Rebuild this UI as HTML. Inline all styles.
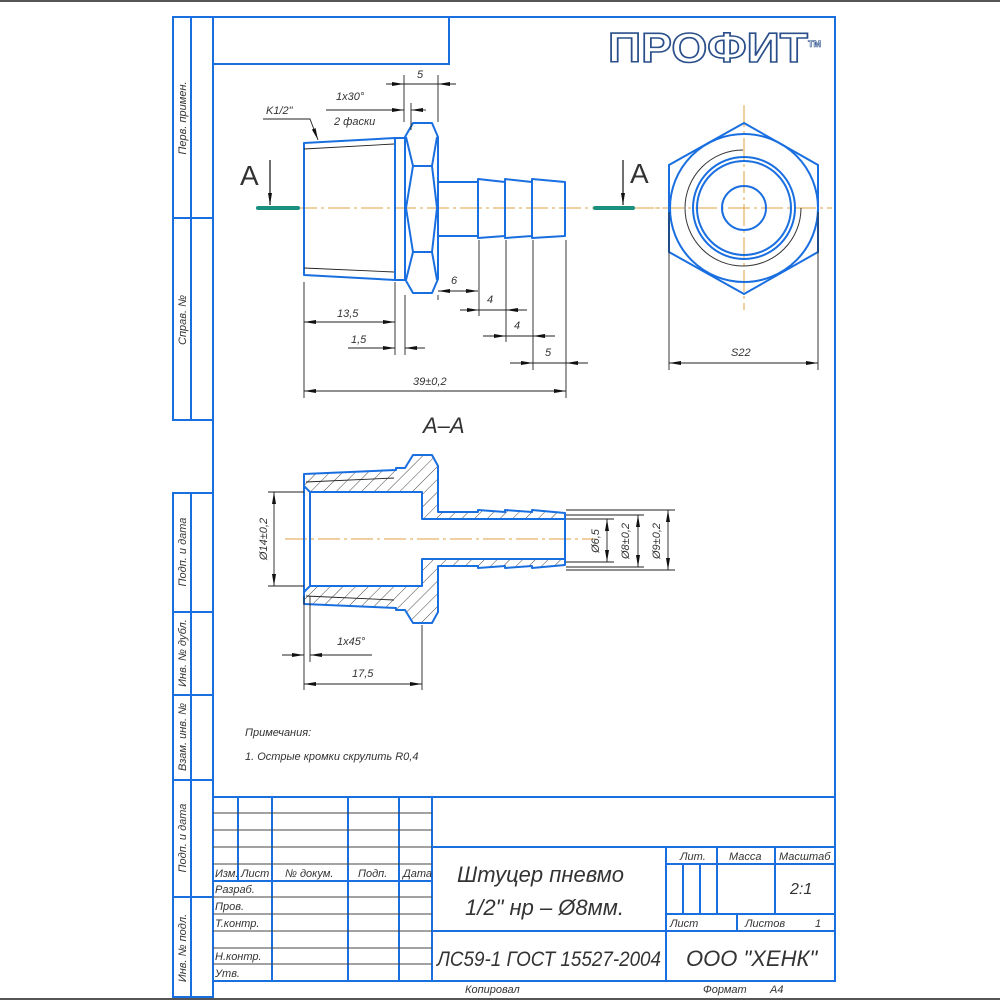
<!DOCTYPE html>
<html><head><meta charset="utf-8"><style>
html,body{margin:0;padding:0;background:#fff;}
svg{display:block;}
text{font-family:"Liberation Sans",sans-serif;font-style:italic;fill:#333;}
</style></head><body>
<svg width="1000" height="1000" viewBox="0 0 1000 1000" xmlns="http://www.w3.org/2000/svg">
<defs>
<marker id="a" viewBox="0 0 12 6" refX="12" refY="3" markerWidth="12" markerHeight="6" markerUnits="userSpaceOnUse" orient="auto-start-reverse"><path d="M0,1 L12,3 L0,5 Z" fill="#111"/></marker>
<pattern id="h" patternUnits="userSpaceOnUse" width="9" height="9" patternTransform="rotate(45)"><line x1="0" y1="0" x2="0" y2="9" stroke="#333" stroke-width="0.9"/></pattern>
</defs>
<rect width="1000" height="1000" fill="#fff"/>
<line x1="0" y1="1" x2="1000" y2="1" stroke="#555" stroke-width="2"/>
<line x1="0" y1="999" x2="1000" y2="999" stroke="#555" stroke-width="2"/>

<!-- frame -->
<g stroke="#1a6fe0" stroke-width="2" fill="none">
<rect x="213" y="17" width="622" height="964"/>
<rect x="213" y="17" width="236" height="47"/>
<polyline points="213,17 173,17 173,420 213,420"/>
<line x1="191" y1="17" x2="191" y2="420"/>
<line x1="173" y1="218" x2="213" y2="218"/>
<polyline points="213,493 173,493 173,997 213,997 213,981"/>
<line x1="191" y1="493" x2="191" y2="997"/>
<line x1="173" y1="612" x2="213" y2="612"/>
<line x1="173" y1="695" x2="213" y2="695"/>
<line x1="173" y1="780" x2="213" y2="780"/>
<line x1="173" y1="897" x2="213" y2="897"/>
<!-- title block -->
<line x1="213" y1="797" x2="835" y2="797"/>
<line x1="238" y1="797" x2="238" y2="881"/>
<line x1="272" y1="797" x2="272" y2="981"/>
<line x1="348" y1="797" x2="348" y2="981"/>
<line x1="399" y1="797" x2="399" y2="981"/>
<line x1="432" y1="797" x2="432" y2="981"/>
<line x1="432" y1="847" x2="835" y2="847"/>
<line x1="213" y1="881" x2="432" y2="881"/>
<line x1="666" y1="847" x2="666" y2="981"/>
<line x1="666" y1="864" x2="835" y2="864"/>
<line x1="666" y1="914" x2="835" y2="914"/>
<line x1="432" y1="931" x2="835" y2="931"/>
<line x1="683" y1="864" x2="683" y2="914"/>
<line x1="700" y1="864" x2="700" y2="914"/>
<line x1="717" y1="847" x2="717" y2="914"/>
<line x1="775" y1="847" x2="775" y2="914"/>
<line x1="737" y1="914" x2="737" y2="931"/>
</g>
<g stroke="#444" stroke-width="1">
<line x1="213" y1="813" x2="432" y2="813"/>
<line x1="213" y1="830" x2="432" y2="830"/>
<line x1="213" y1="847" x2="432" y2="847"/>
<line x1="213" y1="864" x2="432" y2="864"/>
<line x1="213" y1="897" x2="432" y2="897"/>
<line x1="213" y1="914" x2="432" y2="914"/>
<line x1="213" y1="931" x2="432" y2="931"/>
<line x1="213" y1="948" x2="432" y2="948"/>
<line x1="213" y1="964" x2="432" y2="964"/>
</g>
<!-- strip labels -->
<g font-size="11">
<text transform="translate(186,118) rotate(-90)" text-anchor="middle">Перв. примен.</text>
<text transform="translate(186,320) rotate(-90)" text-anchor="middle">Справ. №</text>
<text transform="translate(186,552) rotate(-90)" text-anchor="middle">Подп. и дата</text>
<text transform="translate(186,653) rotate(-90)" text-anchor="middle">Инв. № дубл.</text>
<text transform="translate(186,737) rotate(-90)" text-anchor="middle">Взам. инв. №</text>
<text transform="translate(186,838) rotate(-90)" text-anchor="middle">Подп. и дата</text>
<text transform="translate(186,948) rotate(-90)" text-anchor="middle">Инв. № подл.</text>
</g>
<!-- title texts -->
<g font-size="11">
<text x="215" y="877">Изм.</text><text x="241" y="877">Лист</text><text x="285" y="877">№ докум.</text><text x="358" y="877">Подп.</text><text x="403" y="877">Дата</text>
<text x="215" y="893">Разраб.</text><text x="215" y="910">Пров.</text><text x="215" y="927">Т.контр.</text>
<text x="215" y="960">Н.контр.</text><text x="215" y="977">Утв.</text>
<text x="680" y="860">Лит.</text><text x="729" y="860">Масса</text><text x="779" y="860">Масштаб</text>
<text x="670" y="927">Лист</text><text x="745" y="927">Листов</text><text x="815" y="927">1</text>
<text x="465" y="993">Копировал</text><text x="703" y="993">Формат</text><text x="770" y="993">A4</text>
</g>
<text x="790" y="894" font-size="16">2:1</text>
<text x="457" y="882" font-size="22">Штуцер пневмо</text>
<text x="465" y="915" font-size="22">1/2" нр – Ø8мм.</text>
<text x="437" y="966" font-size="21" textLength="224" lengthAdjust="spacingAndGlyphs">ЛС59-1 ГОСТ 15527-2004</text>
<text x="686" y="966" font-size="22">ООО "ХЕНК"</text>

<!-- logo -->
<text x="608" y="62" font-size="42" font-weight="bold" style="font-style:normal;fill:#fff;stroke:#2a4f8a;stroke-width:1.6" textLength="200" lengthAdjust="spacingAndGlyphs">ПРОФИТ</text>
<text x="808" y="47" font-size="9" font-weight="bold" style="font-style:normal;fill:#fff;stroke:#2a4f8a;stroke-width:0.6">TM</text>

<!-- centerlines -->
<g stroke="#e0a040" stroke-width="1" stroke-dasharray="22,4,3,4" fill="none">
<line x1="262" y1="208" x2="660" y2="208"/>
<line x1="596" y1="208" x2="832" y2="208"/>
<line x1="744" y1="105" x2="744" y2="310"/>
<line x1="285" y1="539" x2="595" y2="539"/>
</g>
<!-- section markers -->
<g stroke="#1a9080" stroke-width="4" stroke-linecap="round"><line x1="258" y1="208" x2="298" y2="208"/><line x1="595" y1="208" x2="633" y2="208"/></g>
<g stroke="#111" stroke-width="1.2"><line x1="270" y1="160" x2="270" y2="205" marker-end="url(#a)"/><line x1="623" y1="160" x2="623" y2="205" marker-end="url(#a)"/></g>
<text x="240" y="185" font-size="28" style="font-style:normal">A</text>
<text x="630" y="183" font-size="28" style="font-style:normal">A</text>

<!-- main view -->
<g stroke="#1a6fe0" stroke-width="2" fill="none" stroke-linejoin="round">
<polygon points="304,143 395,138 395,280 304,275"/>
<rect x="395" y="138" width="10" height="142"/>
<polygon points="413,123 432,123 438,137 438,279 432,293 413,293 405,279 405,137"/>
<line x1="413" y1="166" x2="432" y2="166"/><line x1="413" y1="252" x2="432" y2="252"/>
<polyline points="406,137 413,166 406,208 413,252 406,280"/>
<polyline points="437,137 432,166 437,208 432,252 437,280"/>
<polyline points="438,182 478,182 478,236 438,236"/>
<polygon points="478,179 505,182 505,236 478,238"/>
<polygon points="505,179 532,182 532,236 505,238"/>
<polygon points="532,179 565,182 565,236 532,238"/>
</g>
<g stroke="#222" stroke-width="0.9" fill="none"><line x1="304" y1="149" x2="394" y2="144"/><line x1="304" y1="268" x2="394" y2="272"/></g>

<!-- main view dimensions -->
<g stroke="#222" stroke-width="0.9" fill="none">
<line x1="404" y1="75" x2="404" y2="122"/><line x1="438" y1="75" x2="438" y2="122"/>
<line x1="386" y1="84" x2="404" y2="84" marker-end="url(#a)"/><line x1="456" y1="84" x2="438" y2="84" marker-end="url(#a)"/><line x1="404" y1="84" x2="438" y2="84"/>
<line x1="326" y1="110" x2="404" y2="110" marker-end="url(#a)"/><line x1="426" y1="110" x2="411" y2="110" marker-end="url(#a)"/><line x1="411" y1="103" x2="411" y2="130"/>
<polyline points="263,119 310,119 318,140" marker-end="url(#a)"/>
<line x1="304" y1="282" x2="304" y2="398"/><line x1="395" y1="282" x2="395" y2="355"/><line x1="405" y1="295" x2="405" y2="355"/>
<line x1="304" y1="322" x2="395" y2="322" marker-start="url(#a)" marker-end="url(#a)"/>
<line x1="348" y1="348" x2="395" y2="348" marker-end="url(#a)"/><line x1="425" y1="348" x2="405" y2="348" marker-end="url(#a)"/>
<line x1="438" y1="295" x2="438" y2="300"/>
<line x1="438" y1="291" x2="478" y2="291" marker-start="url(#a)" marker-end="url(#a)"/>
<line x1="479" y1="240" x2="479" y2="316"/><line x1="506" y1="240" x2="506" y2="342"/><line x1="533" y1="240" x2="533" y2="370"/><line x1="566" y1="240" x2="566" y2="398"/>
<line x1="460" y1="310" x2="479" y2="310" marker-end="url(#a)"/><line x1="479" y1="310" x2="506" y2="310"/><line x1="527" y1="310" x2="506" y2="310" marker-end="url(#a)"/>
<line x1="483" y1="336" x2="506" y2="336" marker-end="url(#a)"/><line x1="506" y1="336" x2="533" y2="336"/><line x1="555" y1="336" x2="533" y2="336" marker-end="url(#a)"/>
<line x1="510" y1="363" x2="533" y2="363" marker-end="url(#a)"/><line x1="533" y1="363" x2="566" y2="363"/><line x1="588" y1="363" x2="566" y2="363" marker-end="url(#a)"/>
<line x1="304" y1="391" x2="566" y2="391" marker-start="url(#a)" marker-end="url(#a)"/>
</g>
<g font-size="11">
<text x="417" y="78">5</text><text x="336" y="100">1x30°</text><text x="334" y="125">2 фаски</text><text x="266" y="114">K1/2"</text>
<text x="337" y="317">13,5</text><text x="351" y="343">1,5</text><text x="451" y="284">6</text><text x="487" y="303">4</text><text x="514" y="329">4</text><text x="545" y="356">5</text><text x="413" y="385">39±0,2</text>
</g>

<!-- end view -->
<g stroke="#1a6fe0" stroke-width="2" fill="none">
<polygon points="744,123 818,165 818,252 744,294 669,252 669,165"/>
<circle cx="744" cy="208" r="74"/>
<circle cx="744" cy="208" r="51"/>
<circle cx="744" cy="208" r="47"/>
<circle cx="744" cy="208" r="22"/>
</g>
<path d="M743,150 A58,58 0 1 0 801,208" stroke="#333" stroke-width="1" fill="none"/>
<g stroke="#222" stroke-width="0.9"><line x1="669" y1="212" x2="669" y2="370"/><line x1="818" y1="212" x2="818" y2="370"/>
<line x1="669" y1="363" x2="818" y2="363" marker-start="url(#a)" marker-end="url(#a)"/></g>
<text x="731" y="356" font-size="11">S22</text>
<text x="423" y="433" font-size="22">A–A</text>

<!-- section view -->
<g stroke="#1a6fe0" stroke-width="2" fill="url(#h)" stroke-linejoin="round">
<polygon points="304,474 396,470 396,468 405,468 413,455 432,455 438,466 438,512 478,512 478,510 505,512 505,510 532,512 532,510 565,513 565,519 422,519 422,492 310,492 304,486"/>
<polygon points="304,604 396,608 396,610 405,610 413,623 432,623 438,612 438,566 478,566 478,568 505,566 505,568 532,566 532,568 565,565 565,559 422,559 422,586 310,586 304,592"/>
</g>
<g stroke="#1a6fe0" stroke-width="2" fill="none"><line x1="304" y1="486" x2="304" y2="592"/><line x1="310" y1="492" x2="310" y2="586"/><line x1="565" y1="519" x2="565" y2="559"/></g>
<g stroke="#222" stroke-width="0.9" fill="none"><line x1="306" y1="482" x2="394" y2="478"/><line x1="306" y1="596" x2="394" y2="600"/></g>
<!-- section dims -->
<g stroke="#222" stroke-width="0.9" fill="none">
<line x1="268" y1="492" x2="304" y2="492"/><line x1="268" y1="586" x2="304" y2="586"/>
<line x1="274" y1="492" x2="274" y2="586" marker-start="url(#a)" marker-end="url(#a)"/>
<line x1="566" y1="519" x2="614" y2="519"/><line x1="566" y1="562" x2="614" y2="562"/>
<line x1="566" y1="515" x2="644" y2="515"/><line x1="566" y1="567" x2="644" y2="567"/>
<line x1="566" y1="510" x2="675" y2="510"/><line x1="566" y1="570" x2="675" y2="570"/>
<line x1="607" y1="519" x2="607" y2="562" marker-start="url(#a)" marker-end="url(#a)"/>
<line x1="638" y1="515" x2="638" y2="567" marker-start="url(#a)" marker-end="url(#a)"/>
<line x1="668" y1="510" x2="668" y2="570" marker-start="url(#a)" marker-end="url(#a)"/>
<line x1="304" y1="596" x2="304" y2="690"/><line x1="310" y1="596" x2="310" y2="662"/><line x1="422" y1="625" x2="422" y2="690"/>
<line x1="282" y1="655" x2="304" y2="655" marker-end="url(#a)"/><line x1="372" y1="655" x2="310" y2="655" marker-end="url(#a)"/>
<line x1="304" y1="684" x2="422" y2="684" marker-start="url(#a)" marker-end="url(#a)"/>
</g>
<g font-size="11">
<text transform="translate(267,539) rotate(-90)" text-anchor="middle">Ø14±0,2</text>
<text transform="translate(599,541) rotate(-90)" text-anchor="middle">Ø6,5</text>
<text transform="translate(629,541) rotate(-90)" text-anchor="middle">Ø8±0,2</text>
<text transform="translate(660,541) rotate(-90)" text-anchor="middle">Ø9±0,2</text>
<text x="337" y="645">1x45°</text><text x="352" y="677">17,5</text>
<text x="245" y="736">Примечания:</text>
<text x="245" y="760">1. Острые кромки скрулить R0,4</text>
</g>
</svg>
</body></html>
